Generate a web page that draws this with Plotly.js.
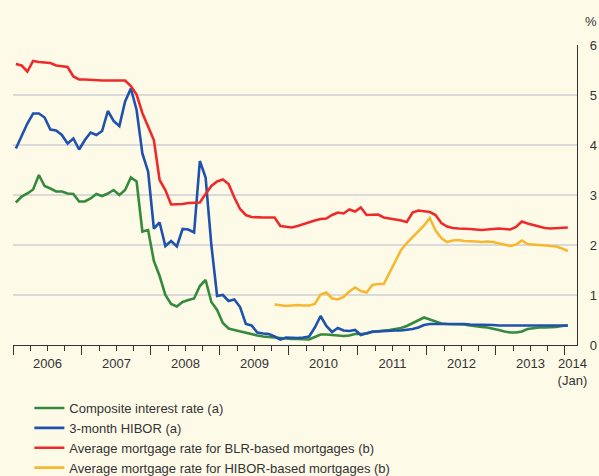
<!DOCTYPE html>
<html><head><meta charset="utf-8">
<script src="https://cdn.plot.ly/plotly-3.0.1.min.js"></script>
<style>html,body{margin:0;padding:0;background:#fefae8;}</style>
</head><body><div id="chart" style="width:599px;height:476px;"></div>
<script>
// Monthly data, Jan 2006 – Jan 2014
const startYear = 2006;
const seriesNames = [
  'Composite interest rate (a)',
  '3-month HIBOR (a)',
  'Average mortgage rate for BLR-based mortgages (b)',
  'Average mortgage rate for HIBOR-based mortgages (b)'
];
const composite = [
  2.85, 2.97, 3.03, 3.11, 3.40, 3.18, 3.13, 3.07, 3.07, 3.03, 3.02, 2.87,
  2.87, 2.93, 3.02, 2.98, 3.03, 3.10, 3.00, 3.10, 3.35, 3.27, 2.27, 2.30,
  1.68, 1.38, 1.00, 0.82, 0.77, 0.86, 0.90, 0.93, 1.18, 1.30, 0.86, 0.70,
  0.44, 0.33, 0.30, 0.27, 0.24, 0.21, 0.19, 0.17, 0.16, 0.14, 0.13, 0.12,
  0.12, 0.12, 0.11, 0.11, 0.16, 0.21, 0.21, 0.20, 0.19, 0.18, 0.19, 0.22,
  0.22, 0.23, 0.26, 0.28, 0.29, 0.30, 0.32, 0.34, 0.38, 0.44, 0.50, 0.55,
  0.51, 0.47, 0.43, 0.42, 0.42, 0.42, 0.41, 0.39, 0.37, 0.36, 0.35, 0.33,
  0.30, 0.27, 0.25, 0.25, 0.27, 0.32, 0.34, 0.35, 0.35, 0.35, 0.36, 0.38,
  0.39
];
const hibor = [
  3.93, 4.18, 4.43, 4.63, 4.63, 4.55, 4.31, 4.29, 4.20, 4.03, 4.13, 3.91,
  4.10, 4.25, 4.20, 4.28, 4.68, 4.48, 4.38, 4.87, 5.13, 4.70, 3.83, 3.47,
  2.33, 2.45, 1.98, 2.08, 1.97, 2.32, 2.31, 2.25, 3.68, 3.35, 2.00, 0.98,
  1.00, 0.88, 0.91, 0.76, 0.42, 0.39, 0.25, 0.23, 0.22, 0.17, 0.11, 0.15,
  0.14, 0.14, 0.15, 0.17, 0.35, 0.58, 0.38, 0.26, 0.34, 0.29, 0.28, 0.30,
  0.20, 0.23, 0.27, 0.27, 0.28, 0.28, 0.29, 0.29, 0.30, 0.32, 0.35, 0.40,
  0.42, 0.42, 0.43, 0.43, 0.43, 0.42, 0.42, 0.41, 0.41, 0.40, 0.40, 0.40,
  0.39, 0.39, 0.39, 0.39, 0.39, 0.39, 0.39, 0.39, 0.39, 0.39, 0.40, 0.40,
  0.39
];
const blrMortgage = [
  5.62, 5.59, 5.47, 5.68, 5.66, 5.65, 5.64, 5.59, 5.57, 5.56, 5.37, 5.31,
  5.31, 5.30, 5.29, 5.29, 5.29, 5.29, 5.29, 5.29, 5.18, 5.01, 4.64, 4.37,
  4.10, 3.30, 3.10, 2.81, 2.81, 2.82, 2.84, 2.85, 2.85, 3.02, 3.18, 3.27,
  3.31, 3.22, 2.95, 2.72, 2.60, 2.56, 2.55, 2.55, 2.55, 2.55, 2.38, 2.37,
  2.35, 2.38, 2.42, 2.45, 2.49, 2.52, 2.53, 2.60, 2.65, 2.63, 2.71, 2.67,
  2.75, 2.60, 2.61, 2.61, 2.55, 2.53, 2.52, 2.49, 2.46, 2.65, 2.69, 2.68,
  2.66, 2.60, 2.44, 2.37, 2.34, 2.33, 2.33, 2.32, 2.31, 2.30, 2.31, 2.32,
  2.33, 2.32, 2.31, 2.36, 2.47, 2.43, 2.40, 2.37, 2.34, 2.33, 2.34, 2.34,
  2.35
];
const hiborMortgage = [
  null, null, null, null, null, null, null, null, null, null, null, null,
  null, null, null, null, null, null, null, null, null, null, null, null,
  null, null, null, null, null, null, null, null, null, null, null, null,
  null, null, null, null, null, null, null, null, null, 0.81, 0.79, 0.78,
  0.79, 0.80, 0.79, 0.79, 0.82, 1.01, 1.05, 0.93, 0.91, 0.96, 1.07, 1.15,
  1.08, 1.05, 1.20, 1.22, 1.22, 1.44, 1.68, 1.90, 2.04, 2.16, 2.27, 2.39,
  2.54, 2.29, 2.14, 2.06, 2.09, 2.10, 2.08, 2.08, 2.07, 2.06, 2.07, 2.06,
  2.03, 2.00, 1.98, 2.01, 2.09, 2.02, 2.01, 2.00, 1.99, 1.98, 1.97, 1.93,
  1.88
];
const yearLabels = ['2006','2007','2008','2009','2010','2011','2012','2013','2014<br>(Jan)'];
const yTickVals = [0, 1, 2, 3, 4, 5, 6];
const gridVals = [1, 2, 3, 4, 5];

// x positions: month index, point drawn at mid-month
const xMonths = composite.map((_, i) => i + 0.5);
const lastMonth = composite.length - 1;
const labelPos = yearLabels.map((_, k) => k < yearLabels.length - 1 ? 12 * k + 6 : lastMonth + 1.3);
const yearStarts = yearLabels.map((_, k) => 12 * k);

const colors = ['#358a3c', '#1f52ad', '#ee2b2b', '#f6b830'];
const seriesData = [composite, hibor, blrMortgage, hiborMortgage];
const txtColor = '#333333';
const font = {family: 'Liberation Sans, Arial, sans-serif', size: 13, color: txtColor};
const legendFont = {family: 'Liberation Sans, Arial, sans-serif', size: 13, color: txtColor};

const traces = seriesData.map((vals, k) => ({
  x: xMonths, y: vals, type: 'scatter', mode: 'lines', name: seriesNames[k],
  line: {color: colors[k], width: 2.6}, connectgaps: false, xaxis: 'x', yaxis: 'y'
}));
// invisible helper trace for the label axes
const helper = {x: [0], y: [0], xaxis: 'x2', yaxis: 'y2', mode: 'markers', marker: {opacity: 0},
                showlegend: false, hoverinfo: 'skip'};

const xRange = [0, 98.1];
const layout = {
  width: 599, height: 476,
  paper_bgcolor: '#fefae8', plot_bgcolor: '#fefae8',
  font: font,
  margin: {l: 12.7, r: 22.3, t: 45, b: 131, autoexpand: false},
  showlegend: true,
  legend: {x: 0.029, xanchor: 'left', y: -0.16, yanchor: 'top', bgcolor: 'rgba(0,0,0,0)',
           font: legendFont, traceorder: 'normal', itemwidth: 30},
  xaxis: {range: xRange, tickvals: yearStarts, ticks: 'outside', ticklen: 9,
          tickcolor: txtColor, tickwidth: 1, showticklabels: false, showgrid: false, zeroline: false,
          showline: true, linecolor: txtColor, linewidth: 1.2,
          minor: {dtick: 3, tick0: 0, ticks: 'outside', ticklen: 5, tickcolor: txtColor, tickwidth: 1, showgrid: false}},
  yaxis: {range: [0, 6], tickvals: gridVals, showticklabels: false, ticks: '',
          showgrid: true, gridcolor: '#dadada', gridwidth: 2, zeroline: false, showline: false},
  xaxis2: {range: xRange, overlaying: 'x', anchor: 'y2', side: 'bottom', tickvals: labelPos, ticktext: yearLabels,
           ticks: '', showgrid: false, zeroline: false, showline: false, ticklabelstandoff: 9,
           tickfont: font},
  yaxis2: {range: [0, 6], overlaying: 'y', anchor: 'x2', side: 'right', tickvals: yTickVals, ticks: '',
           showgrid: false, zeroline: false, showline: true, linecolor: txtColor, linewidth: 1.2,
           ticklabelstandoff: 9, tickfont: font},
  annotations: [{text: '%', xref: 'paper', yref: 'paper', x: 1, y: 1, xanchor: 'left', yanchor: 'bottom',
                 xshift: 6, yshift: 14, showarrow: false, font: font}]
};
Plotly.newPlot('chart', [helper].concat(traces), layout, {displayModeBar: false, staticPlot: true});
</script>
</body></html>
